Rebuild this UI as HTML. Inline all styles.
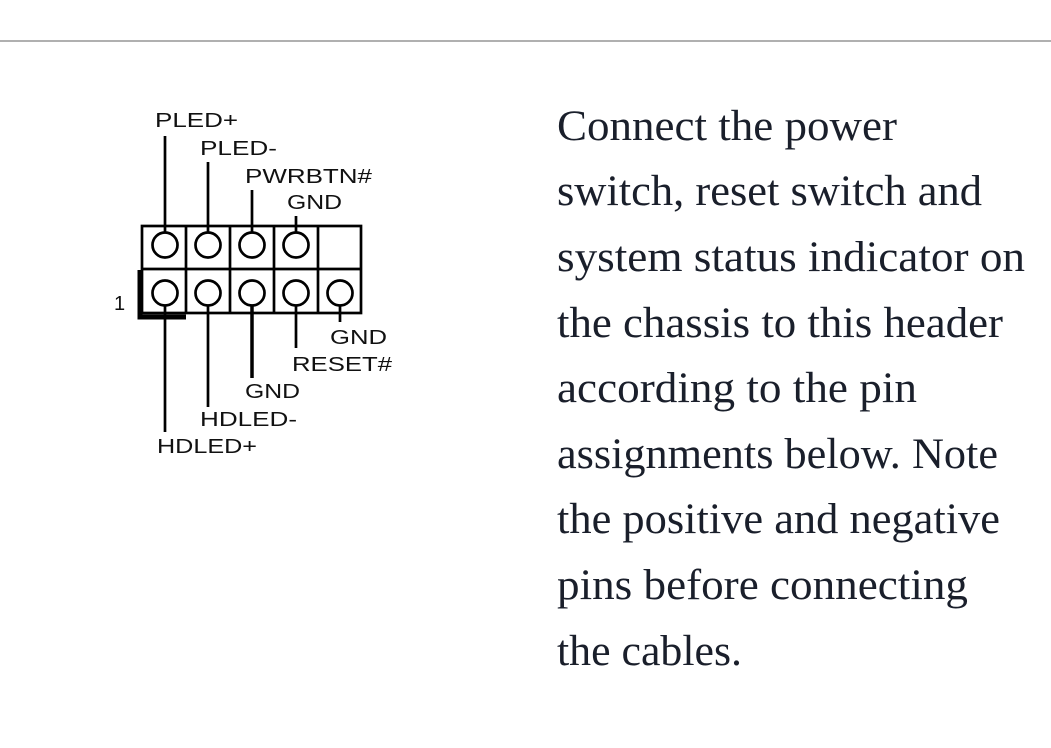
<!DOCTYPE html>
<html><head><meta charset="utf-8"><style>
html,body{margin:0;padding:0;background:#fff;}
svg{display:block}
</style></head><body>
<svg width="1051" height="748" viewBox="0 0 1051 748" xmlns="http://www.w3.org/2000/svg">
<rect width="1051" height="748" fill="#fff"/>
<line x1="0" y1="41" x2="1051" y2="41" stroke="#808080" stroke-width="1.3"/>
<g font-family="Liberation Serif, serif" font-size="43" fill="#1a1f2b">
<text x="557" y="140" textLength="340" lengthAdjust="spacingAndGlyphs">Connect the power</text>
<text x="557" y="205" textLength="425" lengthAdjust="spacingAndGlyphs">switch, reset switch and</text>
<text x="557" y="271" textLength="468" lengthAdjust="spacingAndGlyphs">system status indicator on</text>
<text x="557" y="337" textLength="446" lengthAdjust="spacingAndGlyphs">the chassis to this header</text>
<text x="557" y="402" textLength="360" lengthAdjust="spacingAndGlyphs">according to the pin</text>
<text x="557" y="468" textLength="441" lengthAdjust="spacingAndGlyphs">assignments below. Note</text>
<text x="557" y="533" textLength="443" lengthAdjust="spacingAndGlyphs">the positive and negative</text>
<text x="557" y="599" textLength="411" lengthAdjust="spacingAndGlyphs">pins before connecting</text>
<text x="557" y="665" textLength="185" lengthAdjust="spacingAndGlyphs">the cables.</text>
</g>
<g stroke="#000" stroke-width="2.7" fill="none">
<rect x="142" y="226" width="219" height="87"/>
<line x1="142" y1="269" x2="361" y2="269"/>
<line x1="186" y1="226" x2="186" y2="313"/>
<line x1="230" y1="226" x2="230" y2="313"/>
<line x1="274" y1="226" x2="274" y2="313"/>
<line x1="318" y1="226" x2="318" y2="313"/>
<circle cx="165" cy="245" r="12.5"/><circle cx="208" cy="245" r="12.5"/><circle cx="252" cy="245" r="12.5"/><circle cx="296" cy="245" r="12.5"/>
<circle cx="165" cy="293" r="12.5"/><circle cx="208" cy="293" r="12.5"/><circle cx="252" cy="293" r="12.5"/><circle cx="296" cy="293" r="12.5"/><circle cx="340" cy="293" r="12.5"/>
<line x1="165" y1="136" x2="165" y2="232"/>
<line x1="208" y1="162" x2="208" y2="232"/>
<line x1="252" y1="190" x2="252" y2="232"/>
<line x1="296" y1="216" x2="296" y2="232"/>
<line x1="165" y1="306" x2="165" y2="432"/>
<line x1="208" y1="306" x2="208" y2="407"/>
<line x1="252" y1="306" x2="252" y2="378" stroke-width="3.5"/>
<line x1="296" y1="306" x2="296" y2="348"/>
<line x1="340" y1="306" x2="340" y2="322"/>
</g>
<path d="M140 270 V317 H186" stroke="#000" stroke-width="5" fill="none"/>
<g font-family="Liberation Sans, sans-serif" font-size="20" fill="#111" lengthAdjust="spacingAndGlyphs">
<text x="155" y="127" textLength="83" lengthAdjust="spacingAndGlyphs">PLED+</text>
<text x="200" y="155" textLength="77" lengthAdjust="spacingAndGlyphs">PLED-</text>
<text x="245" y="183" textLength="127" lengthAdjust="spacingAndGlyphs">PWRBTN#</text>
<text x="287" y="209" textLength="55" lengthAdjust="spacingAndGlyphs">GND</text>
<text x="114" y="310">1</text>
<text x="330" y="344" textLength="57" lengthAdjust="spacingAndGlyphs">GND</text>
<text x="292" y="371" textLength="100" lengthAdjust="spacingAndGlyphs">RESET#</text>
<text x="245" y="398" textLength="55" lengthAdjust="spacingAndGlyphs">GND</text>
<text x="200" y="426" textLength="97" lengthAdjust="spacingAndGlyphs">HDLED-</text>
<text x="157" y="453" textLength="100" lengthAdjust="spacingAndGlyphs">HDLED+</text>
</g>
</svg>
</body></html>
